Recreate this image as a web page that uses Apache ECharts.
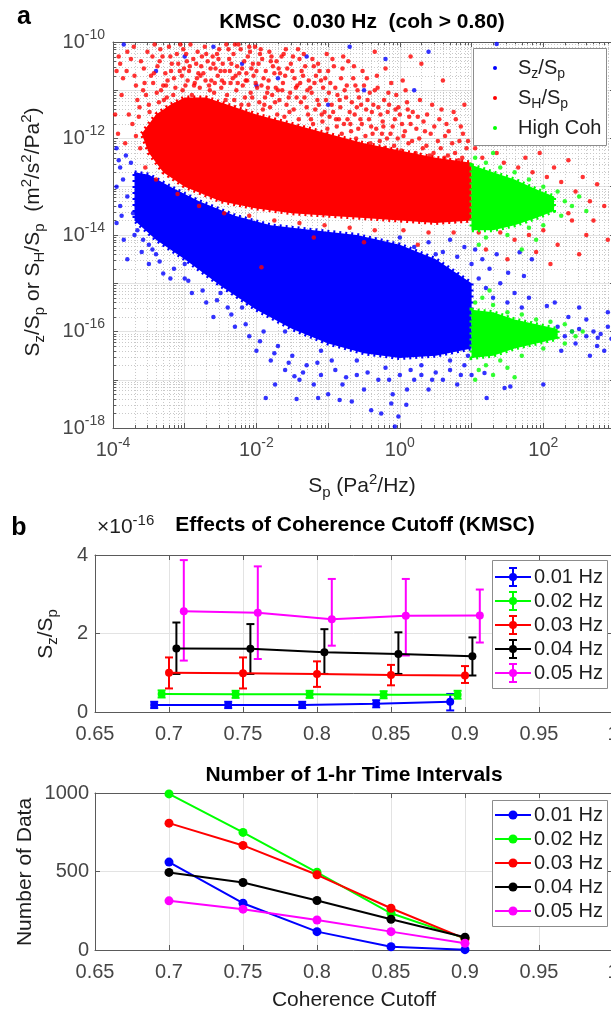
<!DOCTYPE html>
<html><head><meta charset="utf-8">
<script src="https://cdn.jsdelivr.net/npm/echarts@6/dist/echarts.min.js"></script>
<style>html,body{margin:0;padding:0;background:#fff}#c{width:611px;height:1011px}</style>
</head><body><div id="c"></div>
<script>
// ================= DATA =================
// Panel a : values are stored as [log10(Sp), log10(ratio)]
const xExpRange = [-4, 3];      // Sp axis 1e-4 .. 1e3
const yExpRange = [-18, -10];   // ratio axis 1e-18 .. 1e-10
// dense (solid) cores of the clouds, traced as outlines
const szCoreOutline = [[-3.7,-12.7],[-3.5,-12.75],[-3.2,-13.0],[-2.8,-13.3],[-2.3,-13.6],[-1.8,-13.8],[-1.2,-13.9],[-0.6,-14.0],[0.0,-14.2],[0.5,-14.5],[1.0,-15.0],[1.0,-16.35],[0.5,-16.5],[0.0,-16.55],[-0.5,-16.45],[-1.0,-16.25],[-1.5,-15.95],[-2.0,-15.55],[-2.5,-15.05],[-3.0,-14.5],[-3.4,-14.1],[-3.7,-13.7]];
const shCoreOutline = [[-3.6,-11.9],[-3.4,-11.5],[-3.2,-11.3],[-3.0,-11.15],[-2.7,-11.15],[-2.4,-11.3],[-2.0,-11.5],[-1.5,-11.7],[-1.0,-11.9],[-0.5,-12.1],[0.0,-12.25],[0.5,-12.4],[1.0,-12.5],[1.0,-13.7],[0.5,-13.75],[0.0,-13.7],[-0.5,-13.65],[-1.0,-13.6],[-1.5,-13.55],[-2.0,-13.45],[-2.5,-13.3],[-3.0,-13.0],[-3.3,-12.7],[-3.5,-12.3]];
const cohHCoreOutline = [[1.0,-12.55],[1.3,-12.7],[1.6,-12.85],[1.9,-13.05],[2.15,-13.2],[2.15,-13.5],[1.9,-13.65],[1.6,-13.8],[1.3,-13.9],[1.0,-13.9]];
const cohZCoreOutline = [[1.0,-15.55],[1.3,-15.6],[1.6,-15.75],[1.9,-15.85],[2.2,-15.95],[2.2,-16.15],[1.9,-16.25],[1.6,-16.35],[1.3,-16.5],[1.0,-16.55]];
// scattered individual points around the cores
const shSparse = [[-3.92,-10.3],[-3.88,-11.1],[-3.81,-10.6],[-3.78,-11.5],[-3.83,-12.1],[-3.71,-10.1],[-3.68,-10.9],[-3.73,-11.7],[-3.61,-10.4],[-3.58,-11.0],[-3.63,-11.35],[-3.52,-10.2],[-3.47,-10.7],[-3.54,-11.1],[-3.49,-11.45],[-3.42,-10.05],[-3.38,-10.5],[-3.44,-10.85],[-3.36,-11.25],[-3.31,-10.3],[-3.27,-10.65],[-3.33,-11.0],[-3.29,-11.2],[-3.22,-10.1],[-3.18,-10.45],[-3.24,-10.8],[-3.16,-11.1],[-3.11,-10.25],[-3.07,-10.6],[-3.13,-10.95],[-3.02,-10.15],[-2.97,-10.4],[-3.04,-10.7],[-2.99,-10.9],[-2.92,-10.05],[-2.88,-10.35],[-2.94,-10.6],[-2.86,-10.85],[-2.82,-10.2],[-2.77,-10.5],[-2.83,-10.75],[-2.79,-10.95],[-2.72,-10.1],[-2.68,-10.4],[-2.74,-10.65],[-2.66,-10.9],[-2.61,-10.3],[-2.57,-10.55],[-2.63,-10.8],[-2.59,-11.05],[-2.52,-10.15],[-2.47,-10.45],[-2.54,-10.7],[-2.49,-10.95],[-2.42,-10.05],[-2.38,-10.35],[-2.44,-10.6],[-2.36,-10.85],[-2.41,-11.1],[-2.32,-10.25],[-2.27,-10.5],[-2.33,-10.75],[-2.28,-11.0],[-2.31,-11.2],[-2.22,-10.15],[-2.17,-10.4],[-2.24,-10.65],[-2.19,-10.9],[-2.16,-11.15],[-2.12,-10.3],[-2.07,-10.55],[-2.13,-10.8],[-2.08,-11.05],[-2.11,-11.3],[-2.02,-10.1],[-1.97,-10.45],[-2.04,-10.7],[-1.99,-10.95],[-1.96,-11.25],[-1.92,-10.35],[-1.87,-10.6],[-1.93,-10.9],[-1.88,-11.15],[-1.91,-11.4],[-1.82,-10.2],[-1.77,-10.5],[-1.83,-10.8],[-1.78,-11.1],[-1.81,-11.35],[-1.72,-10.4],[-1.67,-10.65],[-1.73,-10.95],[-1.68,-11.2],[-1.71,-11.5],[-1.62,-10.25],[-1.57,-10.55],[-1.63,-10.85],[-1.58,-11.3],[-1.61,-11.55],[-1.52,-10.45],[-1.47,-10.75],[-1.53,-11.05],[-1.48,-11.4],[-1.42,-10.15],[-1.37,-10.6],[-1.43,-10.9],[-1.38,-11.25],[-1.41,-11.6],[-1.32,-10.5],[-1.27,-10.8],[-1.33,-11.15],[-1.28,-11.5],[-1.22,-10.35],[-1.17,-10.7],[-1.23,-11.05],[-1.18,-11.4],[-1.21,-11.7],[-1.12,-10.6],[-1.07,-10.95],[-1.13,-11.3],[-1.08,-11.65],[-1.02,-10.25],[-0.97,-10.85],[-1.03,-11.2],[-0.98,-11.55],[-1.01,-11.8],[-0.92,-10.5],[-0.87,-11.1],[-0.93,-11.45],[-0.88,-11.75],[-0.82,-10.75],[-0.77,-11.0],[-0.83,-11.35],[-0.78,-11.7],[-0.81,-11.9],[-0.72,-10.4],[-0.67,-11.25],[-0.73,-11.6],[-0.68,-11.85],[-0.62,-10.9],[-0.57,-11.15],[-0.63,-11.5],[-0.58,-11.8],[-0.61,-12.0],[-0.52,-10.6],[-0.47,-11.4],[-0.53,-11.7],[-0.48,-11.95],[-0.42,-11.05],[-0.37,-11.3],[-0.43,-11.6],[-0.38,-11.9],[-0.41,-12.1],[-0.32,-10.7],[-0.27,-11.5],[-0.33,-11.8],[-0.28,-12.05],[-0.22,-11.2],[-0.17,-11.45],[-0.23,-11.75],[-0.18,-12.0],[-0.21,-12.2],[-0.12,-10.85],[-0.07,-11.6],[-0.13,-11.9],[-0.08,-12.15],[-0.02,-11.35],[0.03,-11.7],[-0.03,-12.0],[0.02,-12.25],[0.08,-11.0],[0.13,-11.55],[0.07,-11.85],[0.12,-12.1],[0.18,-11.45],[0.23,-11.8],[0.17,-12.05],[0.22,-12.3],[0.28,-11.2],[0.33,-11.65],[0.27,-12.0],[0.32,-12.2],[0.38,-11.5],[0.43,-11.9],[0.37,-12.15],[0.42,-12.35],[0.48,-11.75],[0.53,-12.05],[0.47,-12.3],[0.58,-11.4],[0.63,-11.95],[0.57,-12.2],[0.62,-12.4],[0.68,-11.85],[0.73,-12.1],[0.67,-12.35],[0.78,-11.6],[0.83,-12.05],[0.77,-12.3],[0.82,-12.45],[0.88,-11.9],[0.93,-12.2],[0.87,-12.4],[1.05,-12.2],[1.15,-12.4],[1.25,-11.9],[1.35,-12.3],[1.45,-12.5],[1.55,-12.1],[1.65,-12.6],[1.75,-12.4],[1.85,-12.7],[1.95,-12.3],[2.05,-12.8],[2.15,-12.6],[2.25,-12.9],[2.35,-12.45],[2.45,-13.1],[2.55,-12.8],[2.65,-13.3],[2.75,-12.95],[2.85,-13.4],[1.4,-13.95],[1.6,-14.1],[1.8,-14.0],[2.0,-13.9],[2.2,-14.2],[2.4,-13.7],[2.6,-14.0],[1.2,-14.3],[1.5,-14.5],[2.1,-14.6],[2.5,-14.4],[1.3,-11.6],[2.3,-12.0],[1.7,-11.9],[2.7,-13.7],[2.9,-14.1],[1.1,-13.95],[1.9,-14.35],[2.35,-13.55],[-3.55,-12.6],[-3.62,-12.2],[-3.68,-11.95],[-3.4,-12.85],[-3.1,-13.15],[-2.8,-13.4],[-2.45,-13.55],[-2.1,-13.6],[-1.75,-13.7],[-1.4,-13.75],[-1.05,-13.8],[-0.7,-13.85],[-0.35,-13.9],[0.05,-13.9],[0.4,-13.95],[0.75,-13.95],[-1.93,-14.67],[-1.2,-14.05],[-0.5,-14.15],[0.25,-14.2],
[-3.86,-10.75],[-3.75,-10.35],[-3.66,-11.2],[-3.57,-10.55],[-3.45,-10.3],[-3.39,-11.05],[-3.34,-10.15],[-3.26,-10.9],[-3.19,-10.6],[-3.14,-11.3],[-3.06,-10.05],[-3.01,-10.55],[-2.96,-10.8],[-2.9,-11.1],[-2.84,-10.45],[-2.78,-10.7],[-2.7,-10.25],[-2.64,-10.55],[-2.58,-10.85],[-2.55,-10.25],[-2.5,-10.6],[-2.45,-10.85],[-2.39,-10.15],[-2.35,-10.45],[-2.29,-10.7],[-2.25,-10.05],[-2.2,-10.55],[-2.15,-10.8],[-2.09,-10.2],[-2.05,-10.45],[-2.01,-10.85],[-1.95,-10.25],[-1.9,-10.75],[-1.85,-11.05],[-1.8,-10.4],[-1.75,-10.65],[-1.7,-11.0],[-1.65,-10.3],[-1.6,-10.7],[-1.55,-11.15],[-1.5,-10.6],[-1.45,-10.95],[-1.4,-10.35],[-1.35,-10.7],[-1.3,-11.35],[-1.25,-10.95],[-1.2,-10.5],[-1.15,-11.2],[-1.1,-10.8],[-1.05,-11.45],[-1.0,-10.6],[-0.95,-11.3],[-0.9,-10.95],[-0.85,-11.6],[-0.8,-10.55],[-0.75,-11.15],[-0.7,-11.45],[-0.65,-10.75],[-0.6,-11.35],[-0.55,-11.6],[-0.5,-10.9],[-0.45,-11.2],[-0.4,-11.75],[-0.35,-11.0],[-0.3,-11.35],[-0.25,-11.9],[-0.2,-10.55],[-0.15,-11.3],[-0.1,-11.75],[-0.05,-11.1],[0.0,-11.5],[0.05,-11.95],[0.1,-11.25],[0.15,-11.7],[0.25,-11.55],[0.35,-11.85],[0.45,-11.3],[0.55,-11.6],[0.65,-11.7],[0.75,-11.45],[0.85,-11.75],[0.95,-12.05],[-3.95,-10.6],[-3.97,-11.5],[-3.93,-11.9],[0.3,-10.45],[0.6,-10.8],[0.9,-11.3],[0.15,-10.3],[-0.35,-10.2],
[-3.9,-10.45],[-3.8,-10.2],[-3.7,-10.7],[-3.64,-11.55],[-3.56,-10.85],[-3.5,-11.3],[-3.43,-10.65],[-3.35,-10.4],[-3.3,-10.9],[-3.25,-11.15],[-3.2,-10.3],[-3.15,-10.75],[-3.09,-10.45],[-3.03,-11.0],[-2.98,-10.25],[-2.93,-10.5],[-2.87,-10.9],[-2.81,-10.65],[-2.76,-10.3],[-2.71,-10.8],[-2.65,-11.0],[-2.6,-10.45],[-2.53,-10.35],[-2.48,-10.8],[-2.43,-11.2],[-2.37,-10.6],[-2.3,-10.05],[-2.26,-10.85],[-2.21,-11.3],[-2.14,-10.65],[-2.1,-10.1],[-2.06,-11.15],[-2.0,-10.6],[-1.94,-10.15],[-1.89,-11.3],[-1.84,-10.95],[-1.79,-10.3],[-1.74,-11.25],[-1.69,-10.55],[-1.64,-11.0],[-1.59,-10.15],[-1.54,-11.45],[-1.49,-10.3],[-1.44,-11.15],[-1.39,-10.85],[-1.34,-10.25],[-1.29,-11.0],[-1.24,-11.6],[-1.19,-10.85],[-1.14,-10.45],[-1.09,-11.5],[-1.04,-10.75],[-0.99,-11.05],[-0.94,-10.35],[-0.89,-11.6],[-0.84,-11.2],[-0.79,-10.3],[-0.74,-10.9],[-0.69,-11.7],[-0.64,-10.5],[-0.59,-11.0],[-0.54,-11.3],[-0.46,-10.75],[-0.39,-11.45],[-0.31,-10.95],[-0.24,-11.65],[-0.16,-11.05],[-0.06,-11.4],[0.04,-10.8],[0.11,-11.4]];
const szSparse = [[-3.85,-10.05],[-3.4,-10.6],[-2.6,-10.1],[-2.2,-10.45],[-1.7,-10.75],[-1.3,-10.3],[-0.7,-10.1],[-0.2,-10.35],[0.4,-10.2],[0.2,-11.0],[-1.0,-11.3],[-2.9,-11.4],[-3.2,-11.6],[-0.5,-11.0],[1.35,-10.04],[-2.4,-11.7],[-1.5,-11.9],[-3.0,-10.3],[-2.0,-10.9],[-3.95,-12.2],[-3.9,-12.6],[-3.95,-13.0],[-3.9,-13.4],[-3.95,-13.75],[-3.85,-14.1],[-3.8,-14.5],[-3.7,-14.0],[-3.6,-14.35],[-3.5,-14.6],[-3.4,-14.4],[-3.3,-14.8],[-3.2,-14.9],[-3.0,-14.9],[-2.9,-15.2],[-2.7,-15.4],[-2.6,-15.7],[-2.4,-15.5],[-2.3,-15.9],[-2.1,-16.1],[-2.0,-16.4],[-1.9,-16.0],[-1.8,-16.6],[-1.7,-16.3],[-1.6,-16.8],[-1.5,-16.5],[-1.4,-17.0],[-1.3,-16.7],[-1.2,-17.1],[-1.1,-16.9],[-1.0,-17.3],[-0.9,-16.8],[-0.8,-17.1],[-0.6,-16.9],[-0.5,-17.2],[-0.3,-17.0],[-0.1,-17.3],[0.0,-16.9],[0.1,-17.2],[0.2,-17.0],[0.3,-16.9],[0.4,-17.2],[0.5,-16.85],[0.6,-17.0],[0.7,-16.8],[0.8,-17.1],[0.9,-16.7],[1.0,-16.9],[-1.87,-17.38],[-1.44,-17.4],[-1.14,-17.38],[-0.84,-17.42],[-0.67,-17.45],[-0.4,-17.63],[-0.26,-17.7],[-0.02,-17.76],[-0.07,-17.97],[0.09,-17.52],[-0.12,-17.49],[-1.74,-17.1],[-1.47,-16.93],[2.0,-17.1],[1.21,-17.38],[1.46,-17.17],[1.54,-17.14],[1.18,-16.86],[0.0,-14.05],[0.2,-14.25],[0.4,-14.15],[0.6,-14.35],[0.8,-14.45],[1.0,-14.6],[1.1,-14.9],[1.2,-15.1],[1.3,-15.3],[1.4,-15.0],[1.5,-15.4],[1.6,-15.2],[1.7,-15.5],[1.8,-15.3],[0.9,-14.25],[0.7,-14.1],[1.25,-14.7],[1.35,-14.4],[1.51,-14.78],[1.73,-14.85],[1.84,-14.5],[1.67,-14.36],[2.05,-15.47],[2.16,-15.4],[1.05,-14.3],[1.15,-14.5],[0.5,-14.4],[2.1,-16.0],[2.2,-15.9],[2.3,-16.1],[2.4,-16.0],[2.5,-15.95],[2.6,-16.1],[2.7,-16.0],[2.8,-16.05],[2.9,-15.9],[2.95,-16.15],[2.45,-16.25],[2.75,-16.3],[2.25,-16.4],[2.6,-15.75],[2.35,-15.7],[2.85,-16.4],[2.76,-16.13],[2.9,-15.6],[2.5,-15.5],[2.65,-16.5],[-2.2,-15.5],[-1.6,-16.0],[-1.1,-16.4],[-0.6,-16.6],[-0.2,-16.75],[0.3,-16.7],[0.7,-16.6],[0.95,-16.5],[-2.5,-15.2],[-3.0,-14.6],[-3.5,-14.2],
[-3.92,-12.45],[-3.86,-12.85],[-3.8,-13.2],[-3.75,-12.5],[-3.72,-13.55],[-3.66,-13.9],[-3.58,-14.1],[-3.45,-14.3],[-3.88,-13.6],[-3.82,-12.35],[-3.35,-14.55],[-3.15,-14.7],[-2.95,-14.95],[-2.75,-15.15],[-2.55,-15.35],[-2.35,-15.65],[-2.15,-15.85],[-1.95,-16.2],[-1.75,-16.45],[-1.55,-16.65],[-1.35,-16.85],[-1.15,-16.65],[-0.95,-16.6],[-0.75,-16.95],[-0.45,-16.85],[-0.15,-17.0],[0.15,-16.8],[0.45,-17.0],[0.85,-16.9]];
const cohSparse = [[1.05,-12.4],[1.2,-12.5],[1.4,-12.6],[1.6,-12.7],[1.8,-12.85],[2.0,-13.0],[2.2,-13.1],[2.3,-13.3],[2.4,-13.4],[2.25,-13.6],[2.0,-13.8],[1.8,-13.85],[1.5,-14.0],[1.2,-14.05],[1.1,-14.2],[1.7,-14.3],[2.5,-13.2],[1.3,-12.3],[1.9,-14.1],[2.6,-13.5],[1.05,-15.4],[1.15,-15.3],[1.3,-15.45],[1.5,-15.6],[1.7,-15.65],[1.9,-15.75],[2.1,-15.8],[2.3,-15.85],[2.4,-16.0],[2.45,-16.1],[2.3,-16.25],[2.0,-16.35],[1.7,-16.5],[1.4,-16.6],[1.2,-16.7],[1.1,-16.8],[1.3,-16.9],[1.5,-16.75],[1.05,-17.0],[2.55,-16.0],[1.6,-16.95],[1.25,-15.15]];
const scatterNames = ['S_z/S_p', 'S_H/S_p', 'High Coh'];

// Panel b
const cutoffs = [0.7, 0.75, 0.8, 0.85, 0.9];
const freqLabels = ['0.01 Hz', '0.02 Hz', '0.03 Hz', '0.04 Hz', '0.05 Hz'];
const cutoffShift = [-0.01, -0.005, 0, 0.005, 0.01];   // horizontal offsets used in the top panel
// Sz/Sp (x 1e-16): mean, lower and upper error-bar ends
const sz001Mean = [0.18, 0.18, 0.18, 0.21, 0.26];
const sz001Lo   = [0.10, 0.10, 0.10, 0.12, 0.04];
const sz001Hi   = [0.26, 0.26, 0.26, 0.30, 0.46];
const sz002Mean = [0.46, 0.45, 0.45, 0.44, 0.44];
const sz002Lo   = [0.37, 0.36, 0.36, 0.35, 0.34];
const sz002Hi   = [0.55, 0.54, 0.54, 0.53, 0.54];
const sz003Mean = [1.00, 0.99, 0.97, 0.94, 0.93];
const sz003Lo   = [0.60, 0.60, 0.64, 0.68, 0.74];
const sz003Hi   = [1.39, 1.39, 1.29, 1.20, 1.17];
const sz004Mean = [1.62, 1.61, 1.52, 1.48, 1.42];
const sz004Lo   = [0.97, 0.97, 0.97, 0.97, 0.93];
const sz004Hi   = [2.28, 2.24, 2.11, 2.03, 1.90];
const sz005Mean = [2.57, 2.53, 2.36, 2.45, 2.46];
const sz005Lo   = [1.31, 1.35, 1.69, 1.44, 1.77];
const sz005Hi   = [3.87, 3.71, 3.39, 3.39, 3.12];
// Number of 1-hr intervals
const n001 = [560, 298, 117, 21, 2];
const n002 = [994, 749, 495, 234, 74];
const n003 = [808, 666, 479, 266, 72];
const n004 = [494, 430, 315, 196, 81];
const n005 = [313, 260, 191, 117, 43];

// ================= STYLE =================
const FONT = '"Liberation Sans", Arial, Helvetica, sans-serif';
const AX = '#5a5a5a', LBL = '#464646', GRID = '#e3e3e3';
const colZ = '#0000ff', colH = '#ff0000', colC = '#00ff00';
const freqColors = ['#0000ff', '#00ff00', '#ff0000', '#000000', '#ff00ff'];
const szMeans = [sz001Mean, sz002Mean, sz003Mean, sz004Mean, sz005Mean];
const szLos = [sz001Lo, sz002Lo, sz003Lo, sz004Lo, sz005Lo];
const szHis = [sz001Hi, sz002Hi, sz003Hi, sz004Hi, sz005Hi];
const nData = [n001, n002, n003, n004, n005];

const chart = echarts.init(document.getElementById('c'), null, {renderer: 'canvas'});
const pw = e => Math.pow(10, e);

const supRich = {
  n: {fontSize: 20, lineHeight: 28, color: LBL, fontFamily: FONT},
  s: {fontSize: 14, lineHeight: 15, verticalAlign: 'top', color: LBL, fontFamily: FONT}
};
const logLabel = v => { const e = Math.round(Math.log10(v)); return (e % 2 === 0) ? '{n|10}{s|' + e + '}' : ''; };

function boxAxis(grid, type, pos, extra) {
  return Object.assign({gridIndex: grid, type: type, position: pos,
    axisLine: {show: true, onZero: false, lineStyle: {color: AX}},
    axisTick: {show: true, inside: true, length: 5, lineStyle: {color: AX}},
    axisLabel: {show: false}, splitLine: {show: false}}, extra);
}
const labelStyle = {fontSize: 20, color: LBL, fontFamily: FONT, formatter: v => String(v)};

const xAxis = [
  boxAxis(0, 'log', 'bottom', {logBase: 10, min: pw(xExpRange[0]), max: pw(xExpRange[1]), splitNumber: 7,
    axisLabel: {show: true, formatter: logLabel, rich: supRich, margin: 8},
    splitLine: {show: true, lineStyle: {color: GRID}}}),
  boxAxis(0, 'log', 'top', {logBase: 10, min: pw(xExpRange[0]), max: pw(xExpRange[1]), splitNumber: 7}),
  boxAxis(1, 'value', 'bottom', {min: 0.65, max: 1, interval: 0.05,
    axisLabel: Object.assign({show: true, margin: 12}, labelStyle), splitLine: {show: true, lineStyle: {color: GRID}}}),
  boxAxis(1, 'value', 'top', {min: 0.65, max: 1, interval: 0.05}),
  boxAxis(2, 'value', 'bottom', {min: 0.65, max: 1, interval: 0.05,
    axisLabel: Object.assign({show: true, margin: 12}, labelStyle), splitLine: {show: true, lineStyle: {color: GRID}}}),
  boxAxis(2, 'value', 'top', {min: 0.65, max: 1, interval: 0.05})
];
const yAxis = [
  boxAxis(0, 'log', 'left', {logBase: 10, min: pw(yExpRange[0]), max: pw(yExpRange[1]), splitNumber: 8,
    axisLabel: {show: true, formatter: logLabel, rich: supRich, margin: 8},
    splitLine: {show: true, lineStyle: {color: GRID}}}),
  boxAxis(0, 'log', 'right', {logBase: 10, min: pw(yExpRange[0]), max: pw(yExpRange[1]), splitNumber: 8}),
  boxAxis(1, 'value', 'left', {min: 0, max: 4, interval: 2,
    axisLabel: Object.assign({show: true, margin: 7}, labelStyle), splitLine: {show: true, lineStyle: {color: GRID}}}),
  boxAxis(1, 'value', 'right', {min: 0, max: 4, interval: 2}),
  boxAxis(2, 'value', 'left', {min: 0, max: 1000, interval: 500,
    axisLabel: Object.assign({show: true, margin: 6}, labelStyle), splitLine: {show: true, lineStyle: {color: GRID}}}),
  boxAxis(2, 'value', 'right', {min: 0, max: 1000, interval: 500})
];

// minor log grid (2..9 x 10^k) and minor ticks, computed from the axis extents
function minorGrid(params, api) {
  const ch = [];
  const bl = api.coord([pw(xExpRange[0]), pw(yExpRange[0])]);
  const tr = api.coord([pw(xExpRange[1]), pw(yExpRange[1])]);
  const st = {stroke: '#c9c9c9', lineWidth: 1, lineDash: [1, 2]};
  const tk = {stroke: AX, lineWidth: 1};
  for (let k = xExpRange[0]; k < xExpRange[1]; k++) for (let m = 2; m <= 9; m++) {
    const x = Math.round(api.coord([m * pw(k), pw(yExpRange[0])])[0]) + 0.5;
    ch.push({type: 'line', shape: {x1: x, y1: tr[1], x2: x, y2: bl[1]}, style: st});
    ch.push({type: 'line', shape: {x1: x, y1: bl[1], x2: x, y2: bl[1] - 3}, style: tk});
    ch.push({type: 'line', shape: {x1: x, y1: tr[1], x2: x, y2: tr[1] + 3}, style: tk});
  }
  for (let k = yExpRange[0]; k < yExpRange[1]; k++) for (let m = 2; m <= 9; m++) {
    const y = Math.round(api.coord([pw(xExpRange[0]), m * pw(k)])[1]) + 0.5;
    ch.push({type: 'line', shape: {x1: bl[0], y1: y, x2: tr[0], y2: y}, style: st});
    ch.push({type: 'line', shape: {x1: bl[0], y1: y, x2: bl[0] + 3, y2: y}, style: tk});
  }
  return {type: 'group', children: ch};
}
function coreSeries(outline, color, z) {
  return {type: 'custom', xAxisIndex: 0, yAxisIndex: 0, silent: true, clip: true, z: z,
    data: outline.map(p => [pw(p[0]), pw(p[1])]),
    renderItem: (params, api) => {
      if (params.dataIndex !== 0) return null;
      const pts = outline.map(p => api.coord([pw(p[0]), pw(p[1])]));
      return {type: 'polygon', shape: {points: pts}, style: {fill: color, stroke: color, lineWidth: 4, lineDash: [2, 4]}};
    }};
}
function dotSeries(list, color, name, z) {
  return {type: 'scatter', name: name, xAxisIndex: 0, yAxisIndex: 0, silent: true, z: z,
    symbol: 'circle', symbolSize: 4.5, itemStyle: {color: color},
    data: list.map(p => [pw(p[0]), pw(p[1])])};
}

const series = [
  {type: 'custom', xAxisIndex: 0, yAxisIndex: 0, silent: true, z: 1, clip: true,
   data: [[pw(xExpRange[0]), pw(yExpRange[0])]], renderItem: minorGrid},
  coreSeries(szCoreOutline, colZ, 2), dotSeries(szSparse, colZ, scatterNames[0], 3),
  coreSeries(shCoreOutline, colH, 4), dotSeries(shSparse, colH, scatterNames[1], 5),
  coreSeries(cohHCoreOutline, colC, 6), coreSeries(cohZCoreOutline, colC, 6), dotSeries(cohSparse, colC, scatterNames[2], 7)
];

freqLabels.forEach((f, i) => {
  const c = freqColors[i];
  const pts = cutoffs.map((x, j) => [x + cutoffShift[i], szMeans[i][j], szLos[i][j], szHis[i][j]]);
  series.push({type: 'custom', xAxisIndex: 2, yAxisIndex: 2, silent: true, z: 3, clip: false,
    encode: {x: 0, y: 1}, data: pts,
    renderItem: (params, api) => {
      const x = api.value(0);
      const a = api.coord([x, api.value(2)]), b = api.coord([x, api.value(3)]);
      const s = {stroke: c, lineWidth: 2};
      return {type: 'group', children: [
        {type: 'line', shape: {x1: a[0], y1: a[1], x2: b[0], y2: b[1]}, style: s},
        {type: 'line', shape: {x1: a[0] - 4, y1: a[1], x2: a[0] + 4, y2: a[1]}, style: s},
        {type: 'line', shape: {x1: b[0] - 4, y1: b[1], x2: b[0] + 4, y2: b[1]}, style: s}]};
    }});
  series.push({type: 'line', name: f, xAxisIndex: 2, yAxisIndex: 2, z: 3, silent: true,
    data: pts.map(p => [p[0], p[1]]), symbol: 'circle', symbolSize: 8, showSymbol: true,
    lineStyle: {color: c, width: 2}, itemStyle: {color: c}});
});
freqLabels.forEach((f, i) => {
  const c = freqColors[i];
  series.push({type: 'line', name: f, xAxisIndex: 4, yAxisIndex: 4, z: 3, silent: true,
    data: cutoffs.map((x, j) => [x, nData[i][j]]), symbol: 'circle', symbolSize: 9,
    lineStyle: {color: c, width: 2}, itemStyle: {color: c}});
});

// ---------- text and legends ----------
const TXT = '#1e1e1e';
const r = {
  n: {fontSize: 21, lineHeight: 28, fill: TXT, color: TXT, fontFamily: FONT},
  sb: {fontSize: 15, lineHeight: 15, verticalAlign: 'bottom', fill: TXT, color: TXT, fontFamily: FONT},
  sp: {fontSize: 15, lineHeight: 15, verticalAlign: 'top', fill: TXT, color: TXT, fontFamily: FONT},
  ln: {fontSize: 20, lineHeight: 26, fill: TXT, color: TXT, fontFamily: FONT},
  lsb: {fontSize: 14, lineHeight: 14, verticalAlign: 'bottom', fill: TXT, color: TXT, fontFamily: FONT}
};
function txt(x, y, text, opt) {
  return Object.assign({type: 'text', x: x, y: y, z: 100,
    style: Object.assign({text: text, align: 'center', verticalAlign: 'middle', fill: TXT,
      font: '21px ' + FONT, rich: r}, (opt && opt.style) || {})}, (opt && opt.el) || {});
}
const bold = {style: {font: 'bold 21px ' + FONT, fill: '#000'}};
const graphics = [
  txt(24, 17, 'a', {style: {font: 'bold 25px ' + FONT, fill: '#000'}}),
  txt(19, 528, 'b', {style: {font: 'bold 25px ' + FONT, fill: '#000'}}),
  txt(362, 22, 'KMSC  0.030 Hz  (coh > 0.80)', bold),
  txt(355, 525, 'Effects of Coherence Cutoff (KMSC)', bold),
  txt(354, 775, 'Number of 1-hr Time Intervals', bold),
  txt(33, 232, '{n|S}{sb|z}{n|/S}{sb|p}{n| or S}{sb|H}{n|/S}{sb|p}{n|  (m}{sp|2}{n|/s}{sp|2}{n|/Pa}{sp|2}{n|)}', {el: {rotation: Math.PI / 2}}),
  txt(362, 486, '{n|S}{sb|p}{n| (Pa}{sp|2}{n|/Hz)}'),
  txt(46, 634, '{n|S}{sb|z}{n|/S}{sb|p}', {el: {rotation: Math.PI / 2}}),
  txt(25, 872, 'Number of Data', {el: {rotation: Math.PI / 2}}),
  txt(354, 1000, 'Coherence Cutoff'),
  txt(97, 527, '{n|\u00d710}{sp|-16}', {style: {align: 'left', fill: LBL}})
];
// legend a
graphics.push({type: 'rect', z: 99, shape: {x: 473.5, y: 48.5, width: 133, height: 97}, style: {fill: '#fff', stroke: '#8c8c8c', lineWidth: 1}});
const legATexts = ['{ln|S}{lsb|z}{ln|/S}{lsb|p}', '{ln|S}{lsb|H}{ln|/S}{lsb|p}', '{ln|High Coh}'];
[colZ, colH, colC].forEach((c, i) => {
  const y = 68 + i * 30;
  graphics.push({type: 'circle', z: 100, shape: {cx: 495, cy: y, r: 2}, style: {fill: c}});
  graphics.push(txt(518, y, legATexts[i], {style: {align: 'left'}}));
});
// legends b
function freqLegend(top, h, y0, withBars) {
  graphics.push({type: 'rect', z: 99, shape: {x: 492.5, y: top + 0.5, width: 115, height: h}, style: {fill: '#fff', stroke: '#8c8c8c', lineWidth: 1}});
  freqLabels.forEach((f, i) => {
    const c = freqColors[i], y = y0 + i * 24;
    graphics.push({type: 'line', z: 100, shape: {x1: 495, y1: y, x2: 531, y2: y}, style: {stroke: c, lineWidth: 2}});
    if (withBars) {
      graphics.push({type: 'polyline', z: 100, shape: {points: [[509, y - 9], [517, y - 9], [513, y - 9], [513, y + 9], [509, y + 9], [517, y + 9]]}, style: {stroke: c, lineWidth: 2, fill: null}});
    }
    graphics.push({type: 'circle', z: 101, shape: {cx: 513, cy: y, r: withBars ? 4 : 4.5}, style: {fill: c}});
    graphics.push(txt(534, y, f, {style: {align: 'left', font: '20px ' + FONT}}));
  });
}
freqLegend(560, 128, 577, true);
freqLegend(800, 126, 815, false);

chart.setOption({
  animation: false,
  textStyle: {fontFamily: FONT},
  grid: [
    {left: 113, top: 42, width: 502, height: 386, outerBoundsMode: 'none', containLabel: false},
    {left: 95, top: 555, width: 518, height: 157, outerBoundsMode: 'none', containLabel: false},
    {left: 95, top: 793, width: 518, height: 157, outerBoundsMode: 'none', containLabel: false}
  ],
  xAxis: xAxis, yAxis: yAxis, series: series, graphic: graphics
});
</script></body></html>
